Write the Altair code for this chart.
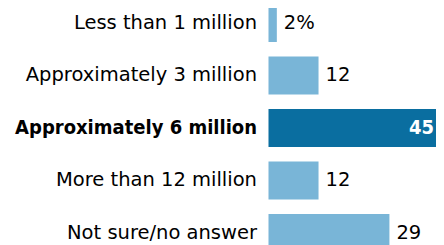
import altair as alt
import pandas as pd

categories = ["Less than 1 million", "Approximately 3 million", "Approximately 6 million",
              "More than 12 million", "Not sure/no answer"]
values = [2, 12, 45, 12, 29]
value_labels = ["2%", "12", "45", "12", "29"]
highlight = [False, False, True, False, False]

df = pd.DataFrame({
    "cat": categories,
    "val": values,
    "lab": value_labels,
    "hl": highlight,
    "row": list(range(len(categories))),
})

LIGHT = "#79b5d7"
DARK = "#0a6ea0"

W, H = 428, 237
x_scale = alt.Scale(domain=[-62.47, 40.17], nice=False, zero=False)
y_scale = alt.Scale(domain=[-0.2857, 4.2286], nice=False, zero=False, reverse=True)

base = alt.Chart(df).transform_calculate(
    y0="datum.row - 0.362", y1="datum.row + 0.362", zero="0"
)

bars = base.mark_bar().encode(
    x=alt.X("zero:Q", scale=x_scale, axis=None),
    x2="val:Q",
    y=alt.Y("y0:Q", scale=y_scale, axis=None),
    y2="y1:Q",
    color=alt.Color("hl:N", scale=alt.Scale(domain=[False, True], range=[LIGHT, DARK]), legend=None),
)

cat_reg = base.transform_filter("!datum.hl").mark_text(
    align="right", baseline="middle", dx=-11.5, font="DejaVu Sans", fontSize=19.5, color="#000"
).encode(
    x=alt.X("zero:Q", scale=x_scale, axis=None),
    y=alt.Y("row:Q", scale=y_scale, axis=None),
    text="cat:N",
)

cat_bold = base.transform_filter("datum.hl").mark_text(
    align="right", baseline="middle", dx=-11.5, font="DejaVu Sans Condensed, DejaVu Sans",
    fontWeight="bold", fontSize=20, color="#000"
).encode(
    x=alt.X("zero:Q", scale=x_scale, axis=None),
    y=alt.Y("row:Q", scale=y_scale, axis=None),
    text="cat:N",
)

val_reg = base.transform_filter("!datum.hl").mark_text(
    align="left", baseline="middle", dx=7, font="DejaVu Sans", fontSize=19.5, color="#000"
).encode(
    x=alt.X("val:Q", scale=x_scale, axis=None),
    y=alt.Y("row:Q", scale=y_scale, axis=None),
    text="lab:N",
)

val_hl = base.transform_filter("datum.hl").mark_text(
    align="right", baseline="middle", dx=-22, font="DejaVu Sans Condensed, DejaVu Sans",
    fontWeight="bold", fontSize=20, color="#ffffff"
).encode(
    x=alt.X("val:Q", scale=x_scale, axis=None),
    y=alt.Y("row:Q", scale=y_scale, axis=None),
    text="lab:N",
)

chart = alt.layer(bars, cat_reg, cat_bold, val_reg, val_hl).properties(
    width=W, height=H, autosize=alt.AutoSizeParams(type="none"), padding=0
).configure_view(stroke=None)

chart.save("out.html", embed_options={"renderer": "svg", "actions": False})
